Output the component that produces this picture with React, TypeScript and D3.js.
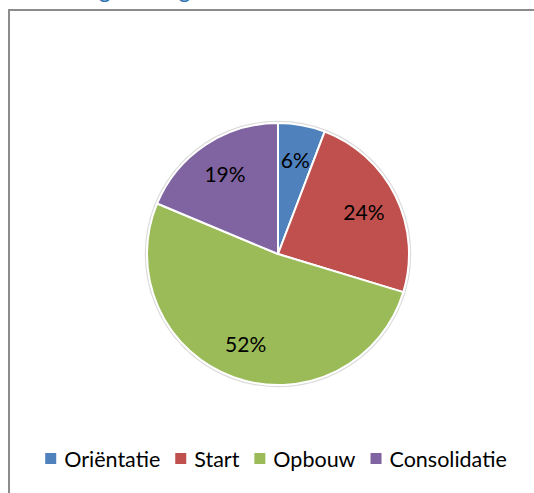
import React, { useLayoutEffect, useRef, useState } from "react";
import * as d3 from "d3";

const categories = ["Oriëntatie", "Start", "Opbouw", "Consolidatie"];
const values = [5.8, 23.9, 51.6, 18.7];
const colors = ["#4F81BD", "#C0504D", "#9BBB59", "#8064A2"];
const titleText = "Verdeling leerlingen";

const W = 534;
const H = 493;
const FONT = "Lato, 'Liberation Sans', sans-serif";

export default function App() {
  const cx = 278;
  const cy = 254;
  const R = 131;
  const total = d3.sum(values);
  const pie = d3.pie<number>().sort(null).value((d) => d);
  const arcs = pie(values);
  const arcGen = d3.arc<d3.PieArcDatum<number>>().innerRadius(0).outerRadius(R);
  const labelArc = d3.arc<d3.PieArcDatum<number>>().innerRadius(R * 0.73).outerRadius(R * 0.73);

  const textRefs = useRef<(SVGTextElement | null)[]>([]);
  const [widths, setWidths] = useState<number[]>(categories.map((c) => c.length * 10));
  useLayoutEffect(() => {
    const w = textRefs.current.map((t) => (t ? t.getComputedTextLength() : 0));
    if (w.some((v, i) => Math.abs(v - widths[i]) > 0.5)) setWidths(w);
  });

  const sq = 11;
  const gapText = 8;
  const gapItem = 15;
  const totalW = d3.sum(widths) + categories.length * (sq + gapText) + (categories.length - 1) * gapItem;
  let x0 = 276 - totalW / 2;
  const legendX: number[] = [];
  widths.forEach((w) => {
    legendX.push(x0);
    x0 += sq + gapText + w + gapItem;
  });
  const legendY = 467;

  return (
    <svg width={W} height={H} style={{ position: "fixed", left: 0, top: 0, background: "#fff" }}>
      <rect x={0} y={0} width={W} height={H} fill="#fff" />
      <text x={16} y={-2} fill="#2E74B5" fontFamily={FONT} fontSize={23}>
        {titleText}
      </text>
      <path d={`M9,${H + 5} L9,10 L${W + 5},10`} fill="none" stroke="#8c8c8c" strokeWidth={2} />
      <g transform={`translate(${cx},${cy})`}>
        <circle r={R + 1.5} fill="none" stroke="#dcdcdc" strokeWidth={1.5} />
        {arcs.map((a, i) => (
          <path key={i} d={arcGen(a) || ""} fill={colors[i]} stroke="#fff" strokeWidth={2} strokeLinejoin="round" />
        ))}
        {arcs.map((a, i) => {
          const [lx, ly] = labelArc.centroid(a);
          return (
            <text key={i} x={lx} y={ly} dy="0.36em" textAnchor="middle" fontFamily={FONT} fontSize={21} fill="#000">
              {`${Math.round((values[i] / total) * 100)}%`}
            </text>
          );
        })}
      </g>
      <g>
        {categories.map((c, i) => (
          <g key={c}>
            <rect x={legendX[i]} y={legendY - 14} width={sq} height={sq} fill={colors[i]} />
            <text
              ref={(el) => {
                textRefs.current[i] = el;
              }}
              x={legendX[i] + sq + gapText}
              y={legendY}
              fontFamily={FONT}
              fontSize={21.5}
              fill="#000"
            >
              {c}
            </text>
          </g>
        ))}
      </g>
    </svg>
  );
}
